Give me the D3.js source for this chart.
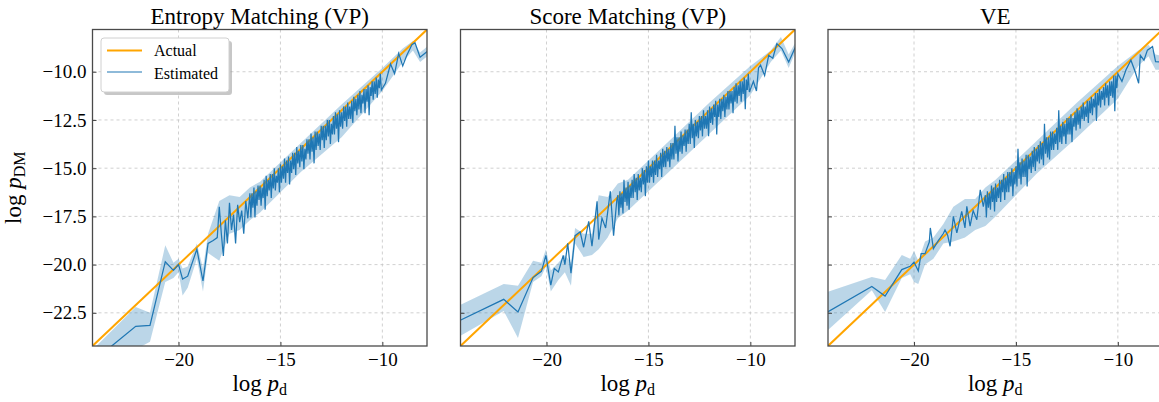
<!DOCTYPE html>
<html>
<head>
<meta charset="utf-8">
<script src="https://cdn.jsdelivr.net/npm/d3@7"></script>
<style>
  body { margin: 0; background: #fff; }
  text { font-family: "Liberation Serif", "DejaVu Serif", serif; fill: #000; }
</style>
</head>
<body>
<div id="chart"></div>
<script>
// panel titles and axis ticks
var titles = ["Entropy Matching (VP)", "Score Matching (VP)", "VE"];
var xTicks = [-20, -15, -10];
var yTicks = [-22.5, -20, -17.5, -15, -12.5, -10];
var actualLine = [-24.22, -7.81];

// x positions (log p_d) of the dense part: upper tips and lower tips of the noisy curve
var xUpper = [-16.5, -16.4, -16.3, -16.2, -16.1, -16.0, -15.9, -15.8, -15.7, -15.6, -15.5,
  -15.4, -15.3, -15.2, -15.1, -15.0, -14.9, -14.8, -14.7, -14.6, -14.5,
  -14.4, -14.3, -14.2, -14.1, -14.0, -13.9, -13.8, -13.7, -13.6, -13.5,
  -13.4, -13.3, -13.2, -13.1, -13.0, -12.9, -12.8, -12.7, -12.6, -12.5,
  -12.4, -12.3, -12.2, -12.1, -12.0, -11.9, -11.8, -11.7, -11.6, -11.5,
  -11.4, -11.3, -11.2, -11.1, -11.0, -10.9, -10.8, -10.7, -10.6, -10.5,
  -10.4, -10.3, -10.2, -10.1];
var xLower = [-16.45, -16.35, -16.25, -16.15, -16.05, -15.95, -15.85, -15.75, -15.65, -15.55,
  -15.45, -15.35, -15.25, -15.15, -15.05, -14.95, -14.85, -14.75, -14.65, -14.55,
  -14.45, -14.35, -14.25, -14.15, -14.05, -13.95, -13.85, -13.75, -13.65, -13.55,
  -13.45, -13.35, -13.25, -13.15, -13.05, -12.95, -12.85, -12.75, -12.65, -12.55,
  -12.45, -12.35, -12.25, -12.15, -12.05, -11.95, -11.85, -11.75, -11.65, -11.55,
  -11.45, -11.35, -11.25, -11.15, -11.05, -10.95, -10.85, -10.75, -10.65, -10.55,
  -10.45, -10.35, -10.25, -10.15, -10.05];

// Entropy Matching (VP): estimated log p_DM
var emHeadX = [-24.3, -22.1, -21.4, -20.65, -20.25, -20.0, -19.8, -19.55, -19.1, -18.8, -18.55, -18.3, -18.1, -18.0,
  -17.9, -17.8, -17.7, -17.6, -17.5, -17.4, -17.3, -17.2, -17.1, -17.0, -16.9, -16.8, -16.7, -16.6];
var emHeadY = [-25.1, -23.2, -23.15, -19.85, -20.3, -20.0, -20.75, -20.6, -19.2, -20.85, -18.9, -18.75, -18.6, -17.0,
  -18.4, -19.55, -17.7, -18.9, -16.8, -18.2, -17.4, -18.9, -16.9, -17.8, -17.2, -18.4, -16.7, -17.6];
var emUpperY = [-16.3, -16.3, -16.0, -16.2, -15.9, -15.9, -16.0, -15.6, -15.4, -15.6, -15.3,
  -15.3, -15.0, -15.4, -15.0, -14.8, -14.9, -14.5, -14.6, -14.4, -14.6,
  -14.2, -14.2, -13.9, -14.1, -13.8, -13.8, -14.0, -13.5, -13.5, -13.2,
  -13.4, -13.1, -13.1, -13.2, -12.8, -12.8, -12.8, -12.5, -12.5, -12.7,
  -12.3, -12.1, -12.2, -12.0, -12.1, -11.8, -11.8, -11.6, -11.8, -11.5,
  -11.3, -11.4, -11.2, -11.0, -11.2, -10.9, -10.9, -10.7, -10.8, -10.5,
  -10.5, -10.3, -10.4, -10.1];
var emLowerY = [-17.55, -17.05, -17.55, -16.95, -16.65, -16.95, -16.55, -17.15, -16.45, -16.15,
  -16.55, -16.05, -16.15, -15.75, -16.25, -15.75, -15.55, -15.75, -15.25, -15.85,
  -15.25, -15.05, -15.35, -14.75, -14.95, -14.65, -15.05, -14.55, -14.25, -14.55,
  -14.15, -14.75, -14.05, -13.85, -14.05, -13.55, -13.95, -13.55, -13.35, -13.75,
  -13.25, -13.25, -12.95, -13.65, -12.85, -12.95, -12.55, -12.85, -12.45, -12.45,
  -12.65, -12.05, -12.25, -11.95, -12.15, -11.65, -12.15, -11.55, -12.25, -11.25,
  -11.45, -11.15, -11.35, -10.85, -10.95];
var emTailX = [-9.85, -9.6, -9.4, -9.2, -9.0, -8.8, -8.55, -8.4, -8.15, -7.8];
var emTailY = [-10.6, -9.6, -10.1, -9.05, -9.7, -9.15, -8.6, -8.5, -9.25, -8.95];
var emBandX = [-24.3, -22.1, -21.4, -20.65, -20.25, -20.0, -19.8, -19.55, -19.1, -18.8, -18.55, -18.0, -17.5, -17.0,
  -16.5, -16.0, -14.0, -12.0, -10.0, -9.0, -8.5, -8.15, -7.8];
var emBandHi = [-24.5, -22.2, -22.5, -19.0, -19.9, -19.7, -20.2, -20.1, -18.9, -20.2, -18.4, -16.7, -16.4, -16.5,
  -16.0, -15.7, -13.7, -11.7, -9.8, -8.8, -8.4, -9.0, -8.7];
var emBandLo = [-25.8, -24.4, -24.0, -20.9, -20.7, -20.4, -21.6, -21.2, -19.7, -21.4, -19.4, -19.8, -18.4, -18.2,
  -17.7, -17.3, -15.2, -13.4, -11.0, -9.5, -8.9, -9.5, -9.2];

// Score Matching (VP)
var smHeadX = [-24.6, -22.1, -21.4, -20.66, -20.25, -20.03, -19.79, -19.62, -19.42, -19.18, -19.1, -18.96, -18.8,
  -18.6, -18.35, -18.18, -17.93, -17.77, -17.52, -17.44, -17.28, -17.1, -16.87, -16.71, -16.55];
var smHeadY = [-23.07, -21.8, -22.46, -20.67, -20.35, -19.52, -21.07, -20.2, -20.38, -19.52, -20.0, -18.9, -20.45,
  -18.5, -18.3, -19.1, -17.76, -19.05, -16.72, -18.7, -17.59, -18.1, -16.2, -18.5, -16.64];
var smUpperY = [-16.4, -16.2, -16.3, -15.6, -16.0, -15.7, -15.9, -15.6, -15.3, -15.5, -15.3,
  -15.5, -15.0, -15.1, -14.9, -14.6, -14.9, -14.6, -14.6, -14.3, -14.6,
  -14.2, -14.0, -14.1, -13.9, -14.0, -13.7, -13.7, -12.8, -13.4, -13.4,
  -13.1, -13.3, -13.0, -13.0, -12.7, -12.1, -12.7, -12.5, -12.6, -12.3,
  -12.3, -12.0, -12.3, -12.0, -11.8, -11.9, -11.7, -11.5, -11.7, -11.4,
  -11.4, -11.2, -11.3, -11.0, -11.0, -11.0, -10.8, -10.6, -10.7, -10.5,
  -10.5, -10.3, -10.4, -10.1];
var smLowerY = [-17.45, -17.05, -17.35, -16.75, -16.95, -17.15, -16.55, -16.55, -16.25, -16.65,
  -16.15, -16.25, -15.85, -16.45, -15.75, -15.75, -15.45, -15.75, -15.35, -15.45,
  -15.05, -15.45, -14.95, -14.95, -14.65, -14.95, -14.55, -14.55, -14.25, -14.65,
  -14.15, -14.25, -13.85, -14.15, -13.75, -13.75, -13.45, -13.95, -13.35, -13.45,
  -13.05, -13.35, -12.95, -12.95, -13.35, -12.65, -12.75, -12.35, -13.25, -12.35,
  -12.45, -12.05, -12.35, -11.95, -11.95, -11.65, -12.15, -11.55, -11.65, -11.25,
  -11.55, -11.15, -11.95, -10.95, -11.05];
var smTailX = [-9.85, -9.7, -9.6, -9.5, -9.3, -9.1, -8.9, -8.7, -8.45, -8.12, -7.8];
var smTailY = [-10.5, -11.0, -9.8, -9.65, -10.2, -9.15, -9.3, -8.55, -8.8, -9.5, -8.75];
var smBandX = [-24.6, -24.24, -22.1, -21.4, -20.66, -20.25, -20.03, -19.79, -19.42, -19.1, -18.8, -18.6, -18.18,
  -17.77, -17.44, -17.0, -16.5, -16.0, -14.0, -12.0, -10.0, -9.0, -8.5, -8.12, -7.8];
var smBandHi = [-22.9, -22.1, -21.0, -21.1, -19.8, -19.9, -19.2, -20.3, -19.9, -19.5, -19.9, -18.1, -18.4,
  -18.4, -16.4, -16.5, -15.8, -15.6, -13.6, -11.6, -9.7, -8.9, -8.2, -9.1, -8.5];
var smBandLo = [-23.9, -23.7, -22.4, -23.8, -20.9, -20.6, -20.1, -21.4, -20.8, -20.4, -21.1, -18.9, -19.6,
  -19.5, -19.2, -18.6, -17.6, -17.2, -15.2, -13.2, -11.2, -9.5, -8.9, -9.8, -9.0];

// VE
var veHeadX = [-24.6, -22.07, -21.42, -20.6, -20.19, -20.0, -19.79, -19.65, -19.46, -19.25, -19.2, -19.05, -18.8,
  -18.56, -18.48, -18.35, -18.23, -18.07, -17.9, -17.66, -17.5, -17.41, -17.25, -17.1, -16.92, -16.75, -16.6];
var veHeadY = [-22.68, -21.13, -21.63, -20.26, -20.09, -19.87, -20.33, -19.43, -19.43, -18.83, -18.1, -19.17, -18.74,
  -18.39, -18.2, -18.48, -19.05, -17.5, -18.36, -17.24, -18.1, -16.98, -18.0, -17.2, -17.67, -16.12, -17.0];
var veUpperY = [-16.4, -16.2, -16.3, -15.9, -16.0, -15.8, -16.0, -15.6, -15.6, -15.3, -15.5,
  -15.2, -15.2, -15.0, -15.2, -14.9, -14.0, -14.7, -14.5, -14.6, -14.3,
  -14.3, -14.4, -14.1, -13.9, -14.0, -13.8, -13.6, -13.7, -12.7, -13.4,
  -13.4, -13.1, -13.1, -13.2, -12.9, -12.0, -12.8, -12.6, -12.7, -12.4,
  -12.4, -12.2, -12.4, -12.1, -11.9, -12.0, -11.8, -11.6, -11.8, -11.5,
  -11.5, -11.3, -11.4, -11.1, -11.1, -10.9, -11.0, -10.8, -10.6, -10.7,
  -10.5, -10.5, -10.2, -10.2];
var veLowerY = [-17.55, -17.05, -17.15, -16.75, -17.25, -16.75, -16.55, -16.75, -16.25, -16.65,
  -16.25, -16.25, -15.95, -16.45, -15.85, -15.95, -15.55, -15.85, -15.45, -15.45,
  -15.95, -15.05, -15.25, -14.95, -15.15, -14.65, -14.75, -14.55, -14.85, -14.25,
  -14.45, -14.55, -14.05, -14.05, -13.75, -14.05, -13.65, -13.75, -13.35, -13.75,
  -13.25, -13.25, -13.65, -12.85, -13.05, -12.75, -12.95, -12.45, -12.55, -12.35,
  -12.65, -12.15, -12.25, -11.85, -12.55, -11.75, -11.85, -11.45, -11.75, -11.35,
  -11.75, -11.25, -11.35, -12.05, -10.85];
var veTailX = [-10.0, -9.8, -9.6, -9.36, -9.15, -8.98, -8.9, -8.72, -8.55, -8.3, -8.15, -7.8];
var veTailY = [-10.1, -10.5, -9.9, -9.4, -10.0, -10.6, -9.15, -9.4, -8.88, -8.7, -9.48, -9.5];
var veBandX = [-24.6, -24.24, -22.07, -21.42, -20.6, -20.19, -20.0, -19.79, -19.46, -19.05, -18.56, -18.07, -17.5,
  -17.0, -16.5, -16.0, -14.0, -12.0, -10.0, -9.0, -8.5, -8.15, -7.8];
var veBandHi = [-21.6, -21.42, -20.64, -20.8, -19.5, -19.7, -19.3, -19.8, -18.8, -18.6, -17.9, -17.0, -16.6,
  -16.6, -16.0, -15.6, -13.6, -11.6, -9.7, -8.9, -8.6, -9.1, -9.2];
var veBandLo = [-23.6, -23.41, -21.33, -22.46, -20.7, -20.5, -20.9, -21.0, -20.0, -19.7, -18.9, -18.8, -18.6,
  -18.2, -18.0, -17.5, -15.3, -13.4, -11.4, -9.7, -9.2, -9.9, -9.9];

function zip(xs, ys) { return xs.map(function(v, i) { return [v, ys[i]]; }); }
function zipBand(xs, lo, hi) { return xs.map(function(v, i) { return [v, lo[i], hi[i]]; }); }
function curve(hx, hy, uy, ly, tx, ty) {
  var pts = zip(hx, hy).concat(zip(xUpper, uy), zip(xLower, ly), zip(tx, ty));
  return d3.sort(pts, function(d) { return d[0]; });
}

var panels = [
  { title: titles[0],
    est: curve(emHeadX, emHeadY, emUpperY, emLowerY, emTailX, emTailY),
    band: zipBand(emBandX, emBandLo, emBandHi) },
  { title: titles[1],
    est: curve(smHeadX, smHeadY, smUpperY, smLowerY, smTailX, smTailY),
    band: zipBand(smBandX, smBandLo, smBandHi) },
  { title: titles[2],
    est: curve(veHeadX, veHeadY, veUpperY, veLowerY, veTailX, veTailY),
    band: zipBand(veBandX, veBandLo, veBandHi) }
];

// layout
var W = 1159, H = 402;
var lefts = [92.5, 460.5, 828],
    marginTop = 29.5,
    width = 334.5,
    height = 316.5;

var svg = d3.select("#chart")
  .append("svg")
    .attr("width", W)
    .attr("height", H);

var x = d3.scaleLinear().domain([-24.22, -7.81]).range([0, width]);
var y = d3.scaleLinear().domain([-24.22, -7.81]).range([height, 0]);

var line = d3.line()
    .x(function(d) { return x(d[0]); })
    .y(function(d) { return y(d[1]); });
var area = d3.area()
    .x(function(d) { return x(d[0]); })
    .y0(function(d) { return y(d[1]); })
    .y1(function(d) { return y(d[2]); });

panels.forEach(function(p, i) {
  var g = svg.append("g")
      .attr("transform", "translate(" + lefts[i] + "," + marginTop + ")");

  g.append("clipPath").attr("id", "clip" + i)
    .append("rect").attr("width", width).attr("height", height);

  // grid
  g.selectAll(".vgrid").data(xTicks).enter().append("line")
      .attr("x1", function(d) { return x(d); }).attr("x2", function(d) { return x(d); })
      .attr("y1", 0).attr("y2", height)
      .style("stroke", "#c4c4c4").style("stroke-width", 0.8).style("stroke-dasharray", "3,3");
  g.selectAll(".hgrid").data(yTicks).enter().append("line")
      .attr("y1", function(d) { return y(d); }).attr("y2", function(d) { return y(d); })
      .attr("x1", 0).attr("x2", width)
      .style("stroke", "#c4c4c4").style("stroke-width", 0.8).style("stroke-dasharray", "3,3");

  var plot = g.append("g").attr("clip-path", "url(#clip" + i + ")");

  plot.append("path")
      .datum(p.band)
      .attr("d", area)
      .style("fill", "#1f77b4").style("fill-opacity", 0.3);

  plot.append("line")
      .attr("x1", x(actualLine[0])).attr("y1", y(actualLine[0]))
      .attr("x2", x(actualLine[1])).attr("y2", y(actualLine[1]))
      .style("stroke", "#ffa500").style("stroke-width", 2);

  plot.append("path")
      .datum(p.est)
      .attr("d", line)
      .style("fill", "none").style("stroke", "#1f77b4").style("stroke-width", 1.25)
      .style("stroke-linejoin", "miter");

  // axes with inward ticks
  var xa = g.append("g")
      .attr("transform", "translate(0," + height + ")")
      .call(d3.axisBottom(x).tickValues(xTicks).tickSize(-4).tickPadding(7).tickFormat(d3.format("d")));
  var ya = g.append("g")
      .call(d3.axisLeft(y).tickValues(yTicks).tickSize(-4).tickPadding(6)
        .tickFormat(i === 0 ? d3.format(".1f") : function() { return ""; }));
  [xa, ya].forEach(function(a) {
    a.select(".domain").remove();
    a.selectAll(".tick line").style("stroke", "#444").style("stroke-width", 1);
    a.selectAll("text").style("font-size", "19px")
      .style("font-family", "'Liberation Serif', serif");
  });

  // spines
  g.append("rect")
      .attr("width", width).attr("height", height)
      .style("fill", "none").style("stroke", "#4a4a4a").style("stroke-width", 1.3);

  // title
  g.append("text")
      .attr("x", width / 2).attr("y", -6)
      .style("text-anchor", "middle")
      .style("font-size", "23px")
      .text(p.title);

  // x label: log p_d
  var xl = g.append("text")
      .attr("x", width / 2).attr("y", height + 45)
      .style("text-anchor", "middle")
      .style("font-size", "23px");
  xl.append("tspan").text("log ");
  xl.append("tspan").style("font-style", "italic").text("p");
  xl.append("tspan").attr("dy", 4).style("font-size", "16px").text("d");

  if (i === 0) {
    // y label: log p_DM
    var yl = g.append("text")
        .attr("transform", "rotate(-90)")
        .attr("x", -height / 2).attr("y", -72)
        .style("text-anchor", "middle")
        .style("font-size", "23px");
    yl.append("tspan").text("log ");
    yl.append("tspan").style("font-style", "italic").text("p");
    yl.append("tspan").attr("dy", 4).style("font-size", "16px").text("DM");

    // legend
    var lg = g.append("g").attr("transform", "translate(8.5,8.5)");
    lg.append("rect")
        .attr("x", 3).attr("y", 3).attr("width", 128).attr("height", 54).attr("rx", 3)
        .style("fill", "#999").style("fill-opacity", 0.55);
    lg.append("rect")
        .attr("width", 128).attr("height", 54).attr("rx", 3)
        .style("fill", "#fff").style("stroke", "#d0d0d0").style("stroke-width", 1);
    lg.append("line").attr("x1", 6).attr("x2", 41).attr("y1", 12.5).attr("y2", 12.5)
        .style("stroke", "#ffa500").style("stroke-width", 2);
    lg.append("line").attr("x1", 6).attr("x2", 41).attr("y1", 34).attr("y2", 34)
        .style("stroke", "#1f77b4").style("stroke-width", 1.1);
    lg.append("text").attr("x", 53).attr("y", 18).style("font-size", "16px").text("Actual");
    lg.append("text").attr("x", 53).attr("y", 40.5).style("font-size", "16px").text("Estimated");
  }
});
</script>
</body>
</html>
